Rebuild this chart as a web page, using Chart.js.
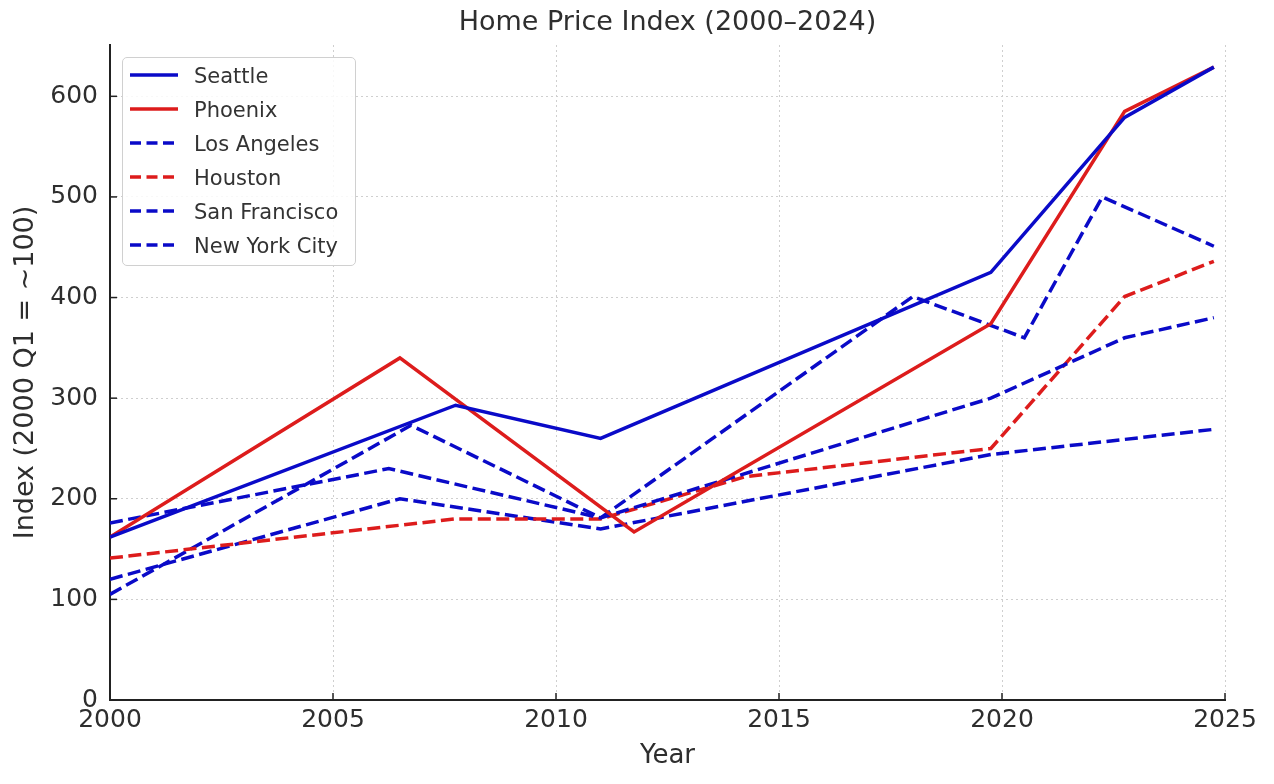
<!DOCTYPE html>
<html>
<head>
<meta charset="utf-8">
<script src="https://cdn.jsdelivr.net/npm/chart.js@4.4.1/dist/chart.umd.min.js"></script>
<style>
  body{margin:0;background:#fff;font-family:'DejaVu Sans',sans-serif;}
  #wrap{position:relative;width:1274px;height:784px;}
  #legend{position:absolute;left:122px;top:57px;width:232px;height:207px;border:1px solid #d0d0d0;border-radius:5px;background:rgba(255,255,255,0.85);}
  .item{position:absolute;left:0;height:34px;width:230px;}
  .item svg{position:absolute;left:6px;top:10px;}
  .item .lab{position:absolute;left:71px;top:3px;font-size:21px;line-height:28px;color:#333;white-space:nowrap;}
</style>
</head>
<body>
<div id="wrap">
  <canvas id="c" width="1274" height="784"></canvas>
  <div id="legend"></div>
</div>
<script>
const BLUE = '#0a0ac8';
const RED = '#dd1c1c';

const X_TICKS = [2000, 2005, 2010, 2015, 2020, 2025];
const Y_TICKS = [0, 100, 200, 300, 400, 500, 600];

const seattleYears = [2000, 2007.75, 2011, 2019.75, 2022.75, 2024.75];
const seattleVals  = [162, 293, 260, 425, 579, 629];
const phoenixYears = [2000, 2006.5, 2011.75, 2019.75, 2022.75, 2024.75];
const phoenixVals  = [162, 340, 167, 374, 585, 629];
const laYears = [2000, 2006.25, 2011, 2019.75, 2022.75, 2024.75];
const laVals  = [176, 230, 181, 300, 360, 380];
const houstonYears = [2000, 2007.75, 2011, 2014.25, 2019.75, 2022.75, 2024.75];
const houstonVals  = [141, 180, 180, 222, 250, 401, 436];
const sfYears = [2000, 2006.75, 2011, 2018, 2020.5, 2022.25, 2024.75];
const sfVals  = [105, 273, 181, 401, 360, 500, 451];
const nycYears = [2000, 2006.5, 2011, 2019.75, 2024.75];
const nycVals  = [120, 200, 170, 244, 269];

const SERIES = [
  {name:'Seattle', xs:seattleYears, ys:seattleVals, color:BLUE, dash:false},
  {name:'Phoenix', xs:phoenixYears, ys:phoenixVals, color:RED, dash:false},
  {name:'Los Angeles', xs:laYears, ys:laVals, color:BLUE, dash:true},
  {name:'Houston', xs:houstonYears, ys:houstonVals, color:RED, dash:true},
  {name:'San Francisco', xs:sfYears, ys:sfVals, color:BLUE, dash:true},
  {name:'New York City', xs:nycYears, ys:nycVals, color:BLUE, dash:true},
];

const TXT = '#2e2e2e';
const FONT = "'DejaVu Sans', sans-serif";

// title + inward tick marks
const extras = {
  id:'extras',
  afterDraw(chart){
    const ctx = chart.ctx, a = chart.chartArea;
    ctx.save();
    ctx.fillStyle = TXT;
    ctx.font = "27px " + FONT;
    ctx.textAlign = 'center';
    ctx.textBaseline = 'middle';
    ctx.fillText('Home Price Index (2000\u20132024)', (a.left + a.right) / 2, 23);
    ctx.strokeStyle = '#222';
    ctx.lineWidth = 1.5;
    const ys = chart.scales.y, xs = chart.scales.x;
    Y_TICKS.forEach(v=>{
      const p = ys.getPixelForValue(v);
      ctx.beginPath(); ctx.moveTo(a.left, p); ctx.lineTo(a.left + 7, p); ctx.stroke();
    });
    X_TICKS.forEach(v=>{
      const p = xs.getPixelForValue(v);
      ctx.beginPath(); ctx.moveTo(p, a.bottom); ctx.lineTo(p, a.bottom - 7); ctx.stroke();
    });
    ctx.restore();
  }
};

new Chart(document.getElementById('c'), {
  type:'line',
  data:{
    datasets: SERIES.map(s=>({
      label:s.name,
      data:s.xs.map((x,i)=>({x:x, y:s.ys[i]})),
      borderColor:s.color,
      backgroundColor:s.color,
      borderWidth:3.5,
      borderDash:s.dash ? [13,5.5] : [],
      pointRadius:0,
      tension:0,
      fill:false
    }))
  },
  options:{
    responsive:false,
    animation:false,
    layout:{padding:{top:45, right:49, bottom:0, left:0}},
    plugins:{legend:{display:false}, tooltip:{enabled:false}},
    scales:{
      x:{
        type:'linear', min:2000, max:2025,
        afterBuildTicks(scale){ scale.ticks = X_TICKS.map(v=>({value:v})); },
        afterFit(scale){ scale.height = 84; },
        ticks:{color:TXT, font:{family:FONT, size:25}, padding:5, maxRotation:0, callback:v=>String(v)},
        grid:{color:'#cfcfcf', lineWidth:1, drawTicks:false},
        border:{display:true, color:'#222', width:2, dash:[2,3]},
        title:{display:true, text:'Year', color:TXT, font:{family:FONT, size:26}, padding:{top:0, bottom:12}}
      },
      y:{
        min:0, max:651,
        afterBuildTicks(scale){ scale.ticks = Y_TICKS.map(v=>({value:v})); },
        afterFit(scale){ scale.width = 110; },
        ticks:{color:TXT, font:{family:FONT, size:25}, padding:12},
        grid:{color:'#cfcfcf', lineWidth:1, drawTicks:false},
        border:{display:true, color:'#222', width:2, dash:[2,3]},
        title:{display:true, text:'Index (2000 Q1 = ~100)', color:TXT, font:{family:FONT, size:27}, padding:{top:10, bottom:0}}
      }
    }
  },
  plugins:[extras]
});

// legend overlay
const leg = document.getElementById('legend');
SERIES.forEach((s,i)=>{
  const d = document.createElement('div');
  d.className = 'item';
  d.style.top = (1 + i*34) + 'px';
  const da = s.dash ? ' stroke-dasharray="11 5.5"' : '';
  d.innerHTML = `<svg width="50" height="12"><line x1="1" y1="6" x2="49" y2="6" stroke="${s.color}" stroke-width="3.5"${da}/></svg><div class="lab">${s.name}</div>`;
  leg.appendChild(d);
});
</script>
</body>
</html>
